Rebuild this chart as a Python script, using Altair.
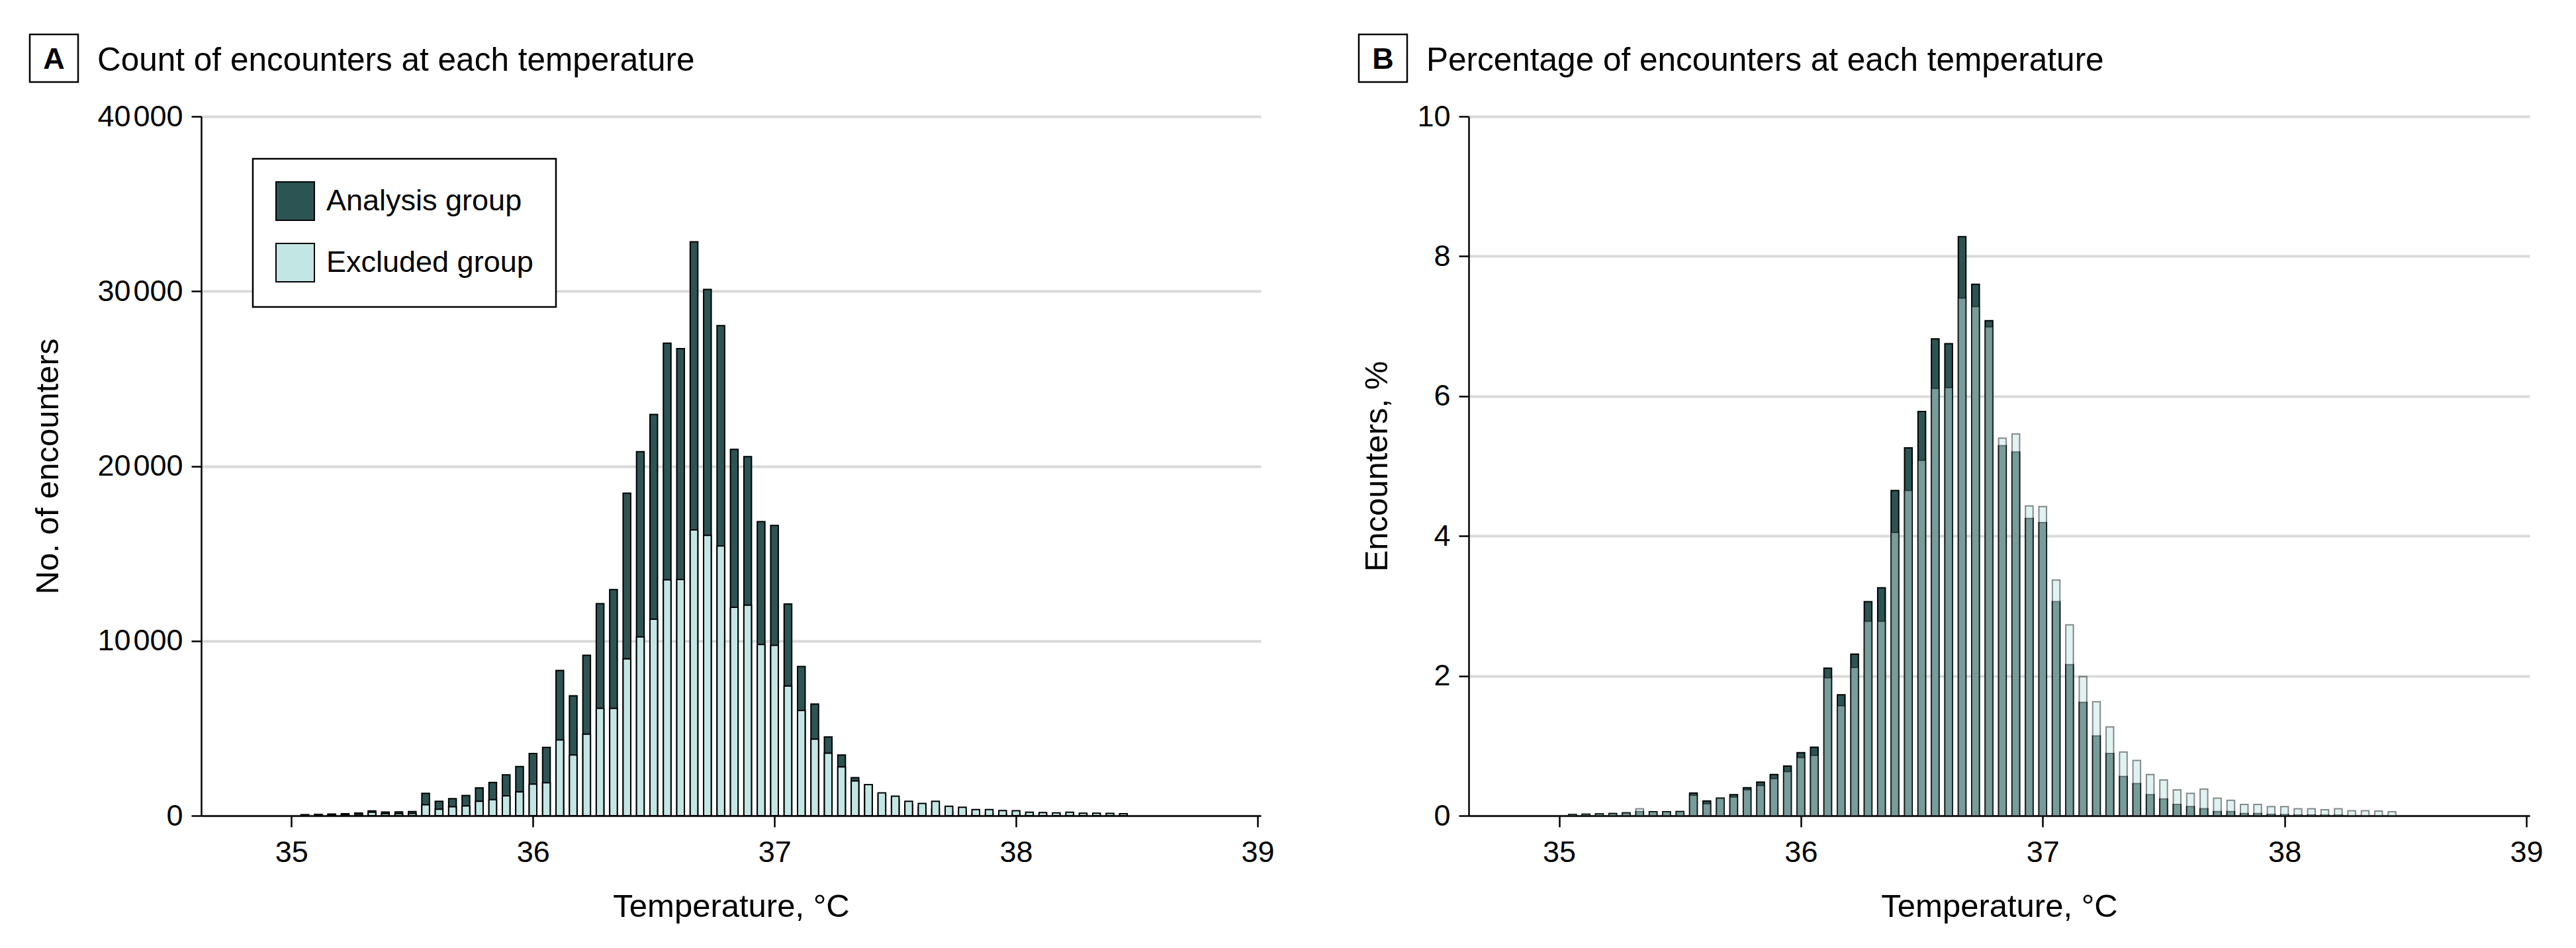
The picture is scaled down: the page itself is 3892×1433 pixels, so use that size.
import altair as alt
import pandas as pd

# Temperatures recorded at 0.1 °F steps (converted to °C in the chart)
TEMP_F = [95.1, 95.2, 95.3, 95.4, 95.5, 95.6, 95.7, 95.8, 95.9, 96.0,
          96.1, 96.2, 96.3, 96.4, 96.5, 96.6, 96.7, 96.8, 96.9, 97.0,
          97.1, 97.2, 97.3, 97.4, 97.5, 97.6, 97.7, 97.8, 97.9, 98.0,
          98.1, 98.2, 98.3, 98.4, 98.5, 98.6, 98.7, 98.8, 98.9, 99.0,
          99.1, 99.2, 99.3, 99.4, 99.5, 99.6, 99.7, 99.8, 99.9, 100.0,
          100.1, 100.2, 100.3, 100.4, 100.5, 100.6, 100.7, 100.8, 100.9, 101.0,
          101.1, 101.2]

ANALYSIS_COUNT = [60, 80, 90, 110, 150, 270, 210, 215, 240, 1280,
                  825, 975, 1150, 1590, 1900, 2340, 2810, 3560, 3910, 8310,
                  6860, 9180, 12130, 12930, 18450, 20820, 22950, 27030, 26720, 32830,
                  30100, 28030, 20960, 20540, 16820, 16600, 12110, 8530, 6390, 4500,
                  3470, 2180, 1750, 1190, 950, 630, 510, 400, 240, 240,
                  120, 120, 80, 60, 40, 30, 30, 30, 0, 0, 0, 0]

EXCLUDED_COUNT = [35, 49, 55, 66, 88, 200, 110, 110, 120, 620,
                  370, 510, 560, 820, 920, 1140, 1360, 1810, 1880, 4330,
                  3470, 4660, 6140, 6140, 8970, 10230, 11240, 13490, 13510, 16350,
                  16040, 15430, 11920, 12040, 9790, 9740, 7420, 6020, 4380, 3580,
                  2790, 1990, 1780, 1310, 1120, 820, 700, 820, 540, 480,
                  350, 350, 290, 280, 200, 180, 165, 200, 140, 140, 130, 115]

ANALYSIS_PCT = [0.016, 0.022, 0.025, 0.03, 0.04, 0.06, 0.057, 0.057, 0.06, 0.325,
                0.21, 0.25, 0.30, 0.40, 0.48, 0.59, 0.71, 0.90, 0.98, 2.11,
                1.73, 2.31, 3.06, 3.26, 4.65, 5.26, 5.78, 6.82, 6.75, 8.28,
                7.60, 7.08, 5.29, 5.20, 4.25, 4.19, 3.06, 2.16, 1.62, 1.14,
                0.89, 0.56, 0.46, 0.30, 0.24, 0.16, 0.13, 0.10, 0.06, 0.06,
                0.03, 0.03, 0.02, 0.015, 0.01, 0.01, 0.008, 0.008, 0, 0, 0, 0]

EXCLUDED_PCT = [0.016, 0.022, 0.025, 0.03, 0.04, 0.10, 0.057, 0.057, 0.06, 0.29,
                0.17, 0.25, 0.265, 0.37, 0.43, 0.53, 0.63, 0.83, 0.86, 1.97,
                1.57, 2.12, 2.78, 2.78, 4.05, 4.65, 5.08, 6.11, 6.12, 7.40,
                7.28, 6.99, 5.40, 5.46, 4.43, 4.42, 3.37, 2.73, 1.99, 1.63,
                1.27, 0.91, 0.79, 0.59, 0.51, 0.37, 0.32, 0.38, 0.25, 0.22,
                0.16, 0.16, 0.13, 0.13, 0.10, 0.10, 0.085, 0.10, 0.07, 0.07, 0.066, 0.057]

GROUPS = ["Analysis group", "Excluded group"]
X_TICKS = [35, 36, 37, 38, 39]
A_Y_TICKS = [0, 10000, 20000, 30000, 40000]
B_Y_TICKS = [0, 2, 4, 6, 8, 10]

DARK = "#2c5453"
LIGHT = "#c2e6e4"
FONT = "Liberation Sans"

W_A, W_B, H = 1601, 1603, 1057


def frame(values, group):
    return pd.DataFrame({"temp_f": TEMP_F, "value": values, "group": group})


def x_enc():
    return alt.X(
        "temp_c:Q",
        scale=alt.Scale(domain=[34.64, 39], nice=False, zero=False),
        axis=alt.Axis(values=X_TICKS, title="Temperature, °C", grid=False,
                      tickSize=17, labelPadding=16.5, titleY=152,
                      titleBaseline="alphabetic", format="d"),
    )


def y_enc(domain, ticks, title, title_x, label_expr=None):
    kw = dict(values=ticks, title=title, grid=True, gridColor="#d9d9d9",
              gridWidth=4, tickSize=15, labelPadding=13, titleX=title_x,
              titleY=H / 2, titleBaseline="middle", titleAngle=270)
    if label_expr:
        kw["labelExpr"] = label_expr
    return alt.Y("value:Q", stack=None,
                 scale=alt.Scale(domain=domain, nice=False, zero=True),
                 axis=alt.Axis(**kw))


def bars(df, y, **mark):
    return (alt.Chart(df)
            .transform_calculate(temp_c="(datum.temp_f - 32) * 5 / 9")
            .transform_filter("datum.value > 0")
            .mark_bar(orient="vertical", width=11.5, **mark)
            .encode(x=x_enc(), y=y))


def decorations(letter, box_x, title_text, title_x):
    one = pd.DataFrame({"k": [0]})
    box = alt.Chart(one).mark_rect(fill="white", stroke="black", strokeWidth=2.5).encode(
        x=alt.value(box_x), x2=alt.value(box_x + 73),
        y=alt.value(-124), y2=alt.value(-52))
    let = alt.Chart(one).mark_text(text=letter, font=FONT, fontSize=45, fontWeight="bold",
                                   align="center", baseline="alphabetic", color="black").encode(
        x=alt.value(box_x + 36.5), y=alt.value(-72))
    ttl = alt.Chart(one).mark_text(text=title_text, font=FONT, fontSize=49.5,
                                   align="left", baseline="alphabetic", color="black").encode(
        x=alt.value(title_x), y=alt.value(-69))
    return [box, let, ttl]


color = alt.Color(
    "group:N",
    scale=alt.Scale(domain=GROUPS, range=[DARK, LIGHT]),
    legend=alt.Legend(title=None, orient="none", legendX=78, legendY=64,
                      symbolType="square", symbolSize=3364,
                      symbolStrokeColor="black", symbolStrokeWidth=2,
                      symbolOpacity=1, labelFont=FONT, labelFontSize=45,
                      labelColor="black", labelOffset=17, labelLimit=1000,
                      rowPadding=27, padding=34, strokeColor="black",
                      fillColor="white"),
)

yA = y_enc([0, 40000], A_Y_TICKS, "No. of encounters", -232,
           "replace(format(datum.value, ','), ',', '\u200a')")
panel_a = alt.layer(
    bars(frame(ANALYSIS_COUNT, GROUPS[0]), yA, stroke="black", strokeWidth=2).encode(color=color),
    bars(frame(EXCLUDED_COUNT, GROUPS[1]), yA, stroke="black", strokeWidth=2).encode(color=color),
    *decorations("A", -259, "Count of encounters at each temperature", -157),
).properties(width=W_A, height=H)

yB = y_enc([0, 10], B_Y_TICKS, "Encounters, %", -139)
panel_b = alt.layer(
    bars(frame(ANALYSIS_PCT, GROUPS[0]), yB, fill=DARK, stroke="black", strokeWidth=2),
    bars(frame(EXCLUDED_PCT, GROUPS[1]), yB, fill=LIGHT, fillOpacity=0.5,
         stroke="black", strokeOpacity=0.45, strokeWidth=2),
    *decorations("B", -166, "Percentage of encounters at each temperature", -64),
).properties(width=W_B, height=H)

chart = (
    alt.hconcat(panel_a, panel_b, spacing=125)
    .properties(padding={"left": 35, "top": 42, "right": 5, "bottom": 5},
                background="white")
    .configure(font=FONT)
    .configure_view(stroke=None)
    .configure_axis(labelFont=FONT, titleFont=FONT, labelFontSize=45, titleFontSize=49,
                    labelColor="black", titleColor="black", titleFontWeight="normal",
                    tickColor="black", domainColor="black", tickWidth=2.5, domainWidth=2.5)
    .configure_legend(strokeWidth=2.5)
)

chart.save("out.html", embed_options={"renderer": "svg", "actions": False})
